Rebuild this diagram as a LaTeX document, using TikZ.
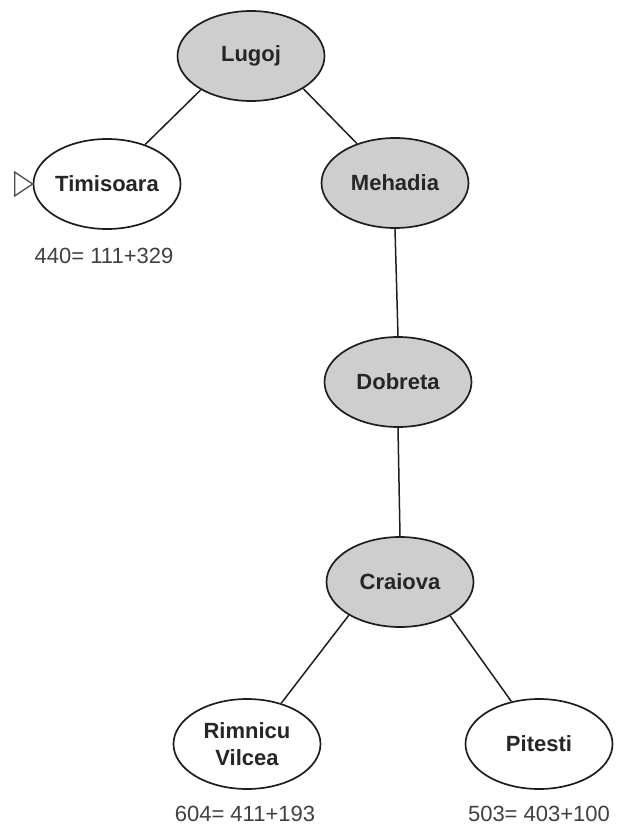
\documentclass[tikz,border=0pt]{standalone}
\usepackage{fontspec}
\setmainfont{Liberation Sans}
\usetikzlibrary{shapes.geometric,positioning}
\definecolor{expgray}{RGB}{206,206,206}
\definecolor{edgegray}{RGB}{30,30,30}

\begin{document}
\begin{tikzpicture}[
  x=1pt, y=-1pt,
  city/.style={
    draw=edgegray, ellipse, line width=1.7pt,
    minimum width=147pt, minimum height=90pt, inner sep=0pt,
    align=center, text=black!85,
    font=\fontsize{22}{27}\selectfont\bfseries
  },
  expanded/.style={city, fill=expgray},
  frontier/.style={city, fill=white},
  cost/.style={inner sep=0pt, text=black!75,
    font=\fontsize{22}{27}\selectfont},
  lnk/.style={line width=1.5pt, draw=edgegray},
]
\useasboundingbox (0,0) rectangle (617,830);

\node[expanded] (lug) at (251,56)  {Lugoj};
\node[frontier] (tim) at (107,184) {Timisoara};
\node[expanded] (meh) at (395,183) {Mehadia};
\node[expanded] (dob) at (398,382) {Dobreta};
\node[expanded] (cra) at (400,582) {Craiova};
\node[frontier] (rim) at (247,744) {Rimnicu\\Vilcea};
\node[frontier] (pit) at (539,744) {Pitesti};

%% f = g + h under the open leaves
\node[cost, below=18pt of tim, xshift=-3pt] (ctim) {440= 111+329};
\node[cost, below=16pt of rim, xshift=-2pt] (crim) {604= 411+193};
\node[cost, below=16pt of pit] (cpit) {503= 403+100};

%% tree edges
\draw[lnk] (lug.214) -- (tim.46);
\draw[lnk] (lug.328) -- (meh.134);
\draw[lnk] (meh.south) -- (dob.north);
\draw[lnk] (dob.south) -- (cra.north);
\draw[lnk] (cra.213) -- (rim.50);
\draw[lnk] (cra.326) -- (pit.123);

%% marker for the node picked next
\draw[line width=1.3pt, draw=edgegray!80, fill=white]
  ([xshift=-18pt, yshift=12pt]tim.west)
  -- ([xshift=-18pt, yshift=-12pt]tim.west)
  -- (tim.west) -- cycle;
\end{tikzpicture}
\end{document}
